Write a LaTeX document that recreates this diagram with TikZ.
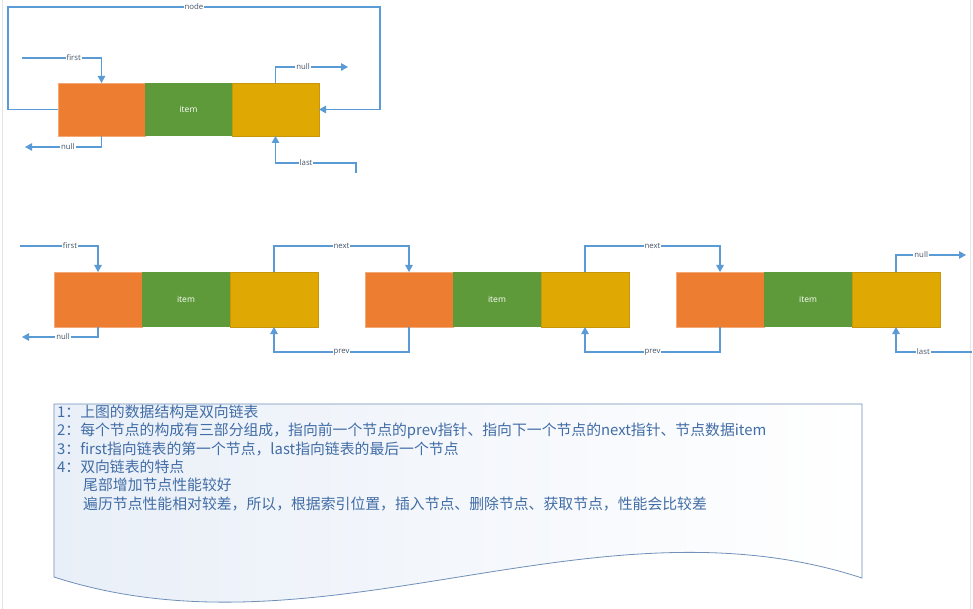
\documentclass[tikz,border=0pt]{standalone}
\usepackage{fontspec}
\setmainfont{Open Sans}
\newfontfamily\cjk{Noto Sans CJK SC}
\usetikzlibrary{arrows.meta}
\definecolor{ln}{HTML}{5B9BD5}
\definecolor{lbc}{HTML}{44546A}
\definecolor{org}{HTML}{ED7D31}
\definecolor{grn}{HTML}{5F9A3A}
\definecolor{ylw}{HTML}{DFA802}
\definecolor{txtc}{HTML}{416DA6}
\definecolor{boxln}{HTML}{7090B8}
\definecolor{boxfill}{HTML}{E9EFF8}
\definecolor{edge}{HTML}{E4E4E4}
\tikzset{
  cell/.style={minimum width=88pt, minimum height=55pt, inner sep=0pt, outer sep=0pt},
  cellsm/.style={minimum width=87pt, minimum height=53pt, inner sep=0pt, outer sep=0pt},
  ocell/.style={fill=org, draw={rgb,255:red,244;green,170;blue,120}, line width=0.6pt},
  gcell/.style={fill=grn, text=white, font=\fontsize{8.5}{9}\selectfont},
  ycell/.style={fill=ylw, draw={rgb,255:red,200;green,150;blue,10}, line width=0.6pt},
  conn/.style={draw=ln, line width=1.1pt},
  arr/.style={conn, -{Triangle[length=7pt,width=7.5pt]}},
  lbl/.style={fill=white, inner sep=1pt, font=\fontsize{7.8}{8}\selectfont, text=lbc},
  ctext/.style={anchor=base west, inner sep=0pt, text=txtc, font=\cjk\fontsize{14.85}{16}\selectfont}
}
\begin{document}
\begin{tikzpicture}[x=1pt,y=-1pt]
\useasboundingbox[fill=white] (0,0) rectangle (973,609);
\draw[edge, line width=0.8pt] (2,0) -- (2,609);
\draw[edge, line width=0.8pt] (970,0) -- (970,609);

% ---------- top diagram ----------
\node[cellsm, ocell] (o0) at (101.5,109.5) {};
\node[cellsm, gcell] (g0) at (188.5,109.5) {item};
\node[cellsm, ycell] (y0) at (275.5,109.5) {};

\coordinate (f0) at (22,58);
\draw[arr] (f0) -- node[lbl,pos=0.65]{first} (f0 -| o0.north) -- (o0.north);
\coordinate (n0) at (25,147);
\draw[arr] (o0.south) |- node[lbl,pos=0.72]{null} (n0);
\coordinate (n1) at (348,67);
\draw[arr] (y0.north) |- node[lbl,pos=0.69]{null} (n1);
\coordinate (l0) at (356,173);
\coordinate (l0b) at (356,163);
\draw[arr] (l0) -- (l0b) -| node[lbl,pos=0.31]{last} (y0.south);
\coordinate (c1) at (8,7);
\coordinate (c2) at (380,7);
\draw[arr] (o0.west) -| (c1) -- node[lbl]{node} (c2) |- (y0.east);

% ---------- middle row ----------
\node[cell, ocell] (o1) at (98,299.5) {};
\node[cell, gcell] (g1) at (186,299.5) {item};
\node[cell, ycell] (y1) at (274,299.5) {};
\node[cell, ocell] (o2) at (409,299.5) {};
\node[cell, gcell] (g2) at (497,299.5) {item};
\node[cell, ycell] (y2) at (585,299.5) {};
\node[cell, ocell] (o3) at (720,299.5) {};
\node[cell, gcell] (g3) at (808,299.5) {item};
\node[cell, ycell] (y3) at (896,299.5) {};

\coordinate (f1) at (20,246);
\draw[arr] (f1) -- node[lbl,pos=0.64]{first} (f1 -| o1.north) -- (o1.north);
\coordinate (n2) at (22,337);
\draw[arr] (o1.south) |- node[lbl,pos=0.73]{null} (n2);

\draw[arr] (y1.north) -- ++(0,-26) -| node[lbl,pos=0.25]{next} (o2.north);
\draw[arr] (o2.south) -- ++(0,25) -| node[lbl,pos=0.25]{prev} (y1.south);
\draw[arr] (y2.north) -- ++(0,-26) -| node[lbl,pos=0.25]{next} (o3.north);
\draw[arr] (o3.south) -- ++(0,25) -| node[lbl,pos=0.25]{prev} (y2.south);

\coordinate (n3) at (966,255);
\draw[arr] (y3.north) |- node[lbl,pos=0.68]{null} (n3);
\coordinate (l3) at (972,352);
\draw[arr] (l3) -| node[lbl,pos=0.32]{last} (y3.south);

% ---------- note box ----------
\draw[draw=boxln, line width=0.8pt, left color=boxfill, right color=white]
  (54,404) -- (862,404) -- (862,578)
  .. controls (593,490) and (323,664) .. (54,577) -- cycle;

\node[ctext] (t1) at (57,417.5) {1：上图的数据结构是双向链表};
\node[ctext] (t2) at (57,435.8) {2：每个节点的构成有三部分组成，指向前一个节点的prev指针、指向下一个节点的next指针、节点数据item};
\node[ctext] (t3) at (57,454.1) {3：first指向链表的第一个节点，last指向链表的最后一个节点};
\node[ctext] (t4) at (57,472.4) {4：双向链表的特点};
\node[ctext] (t5) at (83,490.7) {尾部增加节点性能较好};
\node[ctext] (t6) at (83,509.0) {遍历节点性能相对较差，所以，根据索引位置，插入节点、删除节点、获取节点，性能会比较差};
\end{tikzpicture}
\end{document}
